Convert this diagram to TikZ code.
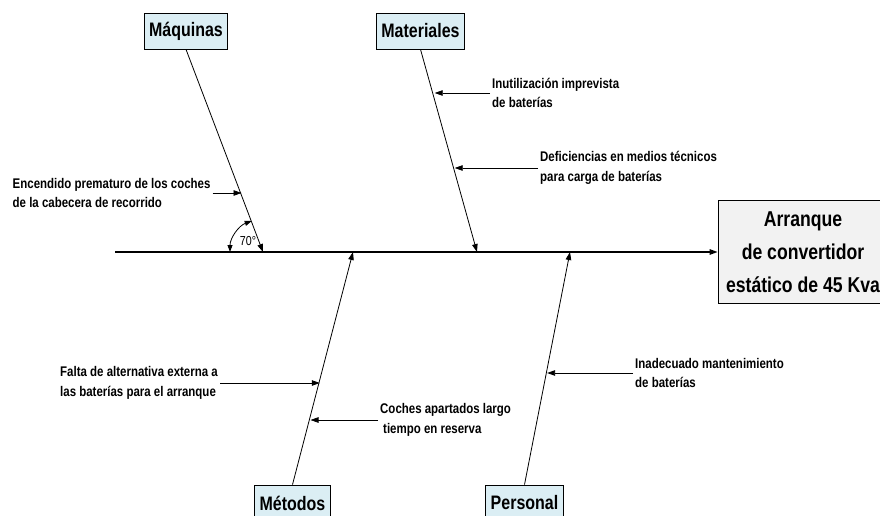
\documentclass[tikz,border=0pt]{standalone}
\usepackage{fontspec}
\setmainfont{Liberation Sans}[FakeStretch=0.82]
\usetikzlibrary{arrows.meta,calc}
\definecolor{ink}{HTML}{000000}
\definecolor{catFill}{HTML}{DBEEF4}
\definecolor{effFill}{HTML}{F2F2F2}
\tikzset{
  every node/.append style = {text=ink},
  % --- lines ---------------------------------------------------------------
  tip/.style      = {-{Triangle[length=8pt,width=5.5pt]}},
  spine/.style    = {draw=ink, line width=1.3pt, tip},
  branch/.style   = {draw=ink, line width=0.8pt, tip},
  cause/.style    = {draw=ink, line width=0.8pt, tip},
  angarc/.style   = {draw=ink, line width=0.8pt,
                     {Triangle[length=7pt,width=5pt]}-{Triangle[length=7pt,width=5pt]}},
  % --- boxes ---------------------------------------------------------------
  catbox/.style   = {draw=ink, fill=catFill, line width=0.8pt,
                     font=\fontsize{19.5}{22}\selectfont\bfseries,
                     minimum height=36pt, inner xsep=5pt},
  effbox/.style   = {draw=ink, fill=effFill, line width=0.8pt,
                     font=\fontsize{21.5}{33}\selectfont\bfseries, align=center,
                     minimum width=178pt, minimum height=103pt},
  % --- labels --------------------------------------------------------------
  causelbl/.style = {font=\fontsize{14}{19.5}\selectfont\bfseries,
                     align=left, inner sep=2pt},
  anglbl/.style   = {font=\fontsize{13}{14}\selectfont, inner sep=1pt},
}

\begin{document}
\begin{tikzpicture}[x=1pt,y=-1pt]
\useasboundingbox (0,0) rectangle (880,516);
\clip (0,0) rectangle (880,516);

% ------------------------------ effect -----------------------------------
\node[effbox] (eff) at (807,252) {};
\node[font=\fontsize{21.5}{33}\selectfont\bfseries, align=center] (efftxt)
     at (803,252) {Arranque\\de convertidor\\estático de 45 Kva};

% ---------------------------- categories ---------------------------------
\node[catbox] (maq) at (186,31)    {Máquinas};
\node[catbox] (mat) at (420.5,31)  {Materiales};
\node[catbox] (met) at (292.5,503) {Métodos};
\node[catbox] (per) at (524.5,503) {Personal};

% ------------------------------ spine ------------------------------------
\coordinate (tail) at (115,252);
\draw[spine] (tail) -- (eff.west);

\coordinate (maqf) at (263,252);
\coordinate (matf) at (477,252);
\coordinate (metf) at (353,252);
\coordinate (perf) at (570,252);
\foreach \a/\b in {maq/maqf, mat/matf}{ \draw[branch] (\a.south) -- (\b); }
\foreach \a/\b in {met/metf, per/perf}{ \draw[branch] (\a.north) -- (\b); }

% ----------------------------- causes ------------------------------------
\coordinate (c1) at (241.5,193);
\coordinate (c3) at (434.7,93);
\coordinate (c4) at (454.7,168);
\coordinate (c5) at (319.8,383);
\coordinate (c6) at (310.5,420);
\coordinate (c7) at (547.1,373);

\node[causelbl, anchor=west] (enc) at (10.5,193)
     {Encendido prematuro de los coches\\de la cabecera de recorrido};
\node[causelbl, anchor=west] (inu) at (490,93)
     {Inutilización imprevista\\de baterías};
\node[causelbl, anchor=west] (def) at (538,168)
     {Deficiencias en medios técnicos\\para carga de baterías};
\node[causelbl, anchor=west] (fal) at (58,383)
     {Falta de alternativa externa a\\las baterías para el arranque};
\node[causelbl, anchor=west] (coc) at (378,420)
     {Coches apartados largo\\\hspace{3pt}tiempo en reserva};
\node[causelbl, anchor=west] (ina) at (633,373)
     {Inadecuado mantenimiento\\de baterías};

\draw[cause] (enc.east) -- (c1);
\draw[cause] (fal.east) -- (c5);
\foreach \a/\b in {inu/c3, def/c4, coc/c6, ina/c7}{ \draw[cause] (\a.west) -- (\b); }

% ------------------------------ angle ------------------------------------
\draw[angarc] ($(maqf)+(-33,0)$) arc (180:250:33);
\node[anglbl] (ang) at (248,241) {70°};

\end{tikzpicture}
\end{document}
